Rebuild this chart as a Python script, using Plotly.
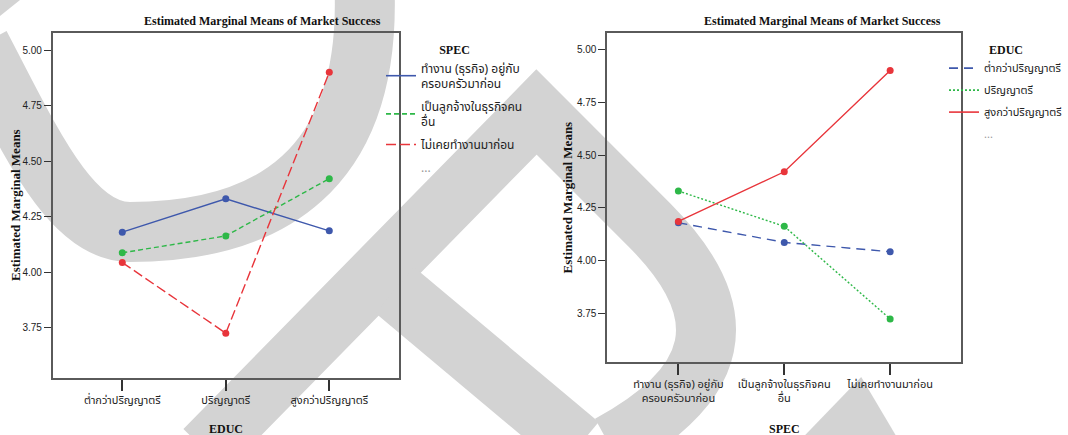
import plotly.graph_objects as go

W, H = 1068, 435

# ---------------- data ----------------
educ = ["ต่ำกว่าปริญญาตรี", "ปริญญาตรี", "สูงกว่าปริญญาตรี"]
spec = ["ทำงาน (ธุรกิจ) อยู่กับ<br>ครอบครัวมาก่อน",
        "เป็นลูกจ้างในธุรกิจคน<br>อื่น",
        "ไม่เคยทำงานมาก่อน"]
# estimated marginal means: rows = SPEC, columns = EDUC
mean_spec0 = [4.180, 4.330, 4.186]
mean_spec1 = [4.087, 4.163, 4.421]
mean_spec2 = [4.043, 3.725, 4.900]
means = [mean_spec0, mean_spec1, mean_spec2]
yticks = [3.75, 4.00, 4.25, 4.50, 4.75, 5.00]
title_text = "Estimated Marginal Means of Market Success"
ytitle = "Estimated Marginal Means"

# ---------------- styles ----------------
BLUE, GREEN, RED = "#3e58ac", "#2eb848", "#e8353b"
left_styles = [(BLUE, "solid"), (GREEN, "5px,3px"), (RED, "10px,4px")]
right_styles = [(BLUE, "9px,6px"), (GREEN, "2px,2px"), (RED, "solid")]
THAI = "Tahoma, 'Noto Sans Thai', 'Noto Sans', 'DejaVu Sans', sans-serif"
SERIF = "'Liberation Serif', 'Times New Roman', serif"
NUM = "'Liberation Sans Narrow', 'Liberation Sans', Arial, sans-serif"
DOTS = "<span style='color:#999'>...</span>"

fig = go.Figure()

# left panel: x = EDUC, one line per SPEC
for i, name in enumerate(spec):
    c, d = left_styles[i]
    fig.add_trace(go.Scatter(
        x=educ, y=means[i], name=name, mode="lines+markers", showlegend=False,
        line=dict(color=c, width=1.4, dash=d), marker=dict(color=c, size=7),
        xaxis="x", yaxis="y"))
    fig.add_trace(go.Scatter(
        x=[None], y=[None], name=name, mode="lines", legendgroup="L%d" % i,
        line=dict(color=c, width=1.6, dash=d), xaxis="x", yaxis="y", legend="legend"))
fig.add_trace(go.Scatter(x=[None], y=[None], mode="lines", name=DOTS, legendgroup="L9",
                         line=dict(color="rgba(0,0,0,0)"), xaxis="x", yaxis="y", legend="legend"))

# right panel: x = SPEC, one line per EDUC
for j, name in enumerate(educ):
    c, d = right_styles[j]
    fig.add_trace(go.Scatter(
        x=spec, y=[means[i][j] for i in range(3)], name=name, mode="lines+markers", showlegend=False,
        line=dict(color=c, width=1.4, dash=d), marker=dict(color=c, size=7),
        xaxis="x2", yaxis="y2"))
    fig.add_trace(go.Scatter(
        x=[None], y=[None], name=name, mode="lines", legendgroup="R%d" % j,
        line=dict(color=c, width=1.6, dash=d), xaxis="x2", yaxis="y2", legend="legend2"))
fig.add_trace(go.Scatter(x=[None], y=[None], mode="lines", name=DOTS, legendgroup="R9",
                         line=dict(color="rgba(0,0,0,0)"), xaxis="x2", yaxis="y2", legend="legend2"))

AX = "#5a5a5a"
def xax(domain):
    return dict(domain=domain, type="category", range=[-0.67, 2.67], showline=True, mirror=True,
                linecolor=AX, linewidth=2, ticks="outside", ticklen=11, tickwidth=1.5, tickcolor="#333",
                showgrid=False, zeroline=False, tickfont=dict(family=THAI, size=11, color="#222"))
def yax(domain):
    return dict(domain=domain, range=[3.523, 5.077], tickvals=yticks, tickformat=".2f",
                showline=True, mirror=True, linecolor=AX, linewidth=2, ticks="outside", ticklen=7,
                tickwidth=1.2, tickcolor="#333", showgrid=False, zeroline=False,
                tickfont=dict(family=NUM, size=10, color="#222"))

def px(x): return x / W
def py(y): return 1 - y / H

fig.update_layout(
    width=W, height=H, margin=dict(l=0, r=0, t=0, b=0),
    paper_bgcolor="white", plot_bgcolor="rgba(0,0,0,0)",
    xaxis=xax([px(53), px(399)]), yaxis=yax([py(378), py(33)]),
    xaxis2=dict(xax([px(608), px(962)]), anchor="y2"),
    yaxis2=dict(yax([py(361.7), py(33)]), anchor="x2"),
    legend=dict(x=px(381), xanchor="left", y=py(38), yanchor="top", bgcolor="rgba(0,0,0,0)",
                title=dict(text="<b>SPEC</b>", side="top center", font=dict(family=SERIF, size=12, color="#111")),
                font=dict(family=THAI, size=12, color="#222"), tracegroupgap=4),
    legend2=dict(x=px(945), xanchor="left", y=py(38), yanchor="top", bgcolor="rgba(0,0,0,0)",
                 title=dict(text="<b>EDUC</b>", side="top center", font=dict(family=SERIF, size=12, color="#111")),
                 font=dict(family=THAI, size=11, color="#222"), tracegroupgap=3),
    showlegend=True,
)

ann = []
for cx in (263, 823):
    ann.append(dict(text="<b>%s</b>" % title_text, x=px(cx), y=py(21), xref="paper", yref="paper",
                    xanchor="center", yanchor="middle",
                    showarrow=False, font=dict(family=SERIF, size=12, color="#111")))
for cx, cy in ((15, 205), (568, 197)):
    ann.append(dict(text="<b>%s</b>" % ytitle, x=px(cx), y=py(cy), xref="paper", yref="paper",
                    xanchor="center", yanchor="middle",
                    textangle=-90, showarrow=False, font=dict(family=SERIF, size=13, color="#111")))
for cx, t in ((226, "EDUC"), (785, "SPEC")):
    ann.append(dict(text="<b>%s</b>" % t, x=px(cx), y=py(429), xref="paper", yref="paper",
                    xanchor="center", yanchor="middle",
                    showarrow=False, font=dict(family=SERIF, size=12, color="#111")))
fig.update_layout(annotations=ann)

# ---------------- background watermark (decorative) ----------------
GREY = "#d3d3d3"
def pt(x, y): return "%.5f,%.5f" % (px(x), py(y))
wm_strokes = [
    "M%s C%s %s %s C%s %s %s" % (pt(-20, 45), pt(30, 140), pt(70, 232), pt(130, 232),
                                  pt(270, 232), pt(370, 170), pt(365, -8)),
    "M%s L%s L%s C%s %s %s" % (pt(205, 450), pt(537, 112), pt(650, 225),
                               pt(740, 315), pt(720, 385), pt(610, 445)),
    "M%s L%s" % (pt(395, 290), pt(580, 445)),
]
shapes = []
for p in wm_strokes:
    shapes.append(dict(type="path", path=p, xref="paper", yref="paper", layer="below",
                       line=dict(color=GREY, width=60)))
for poly in ([(0, 0), (20, 0), (0, 16)], [(805, 436), (862, 377), (897, 436)]):
    p = "M" + " L".join(pt(*q) for q in poly) + " Z"
    shapes.append(dict(type="path", path=p, xref="paper", yref="paper", layer="below",
                       fillcolor=GREY, line=dict(width=0)))
fig.update_layout(shapes=shapes)

fig.write_html("out.html")
